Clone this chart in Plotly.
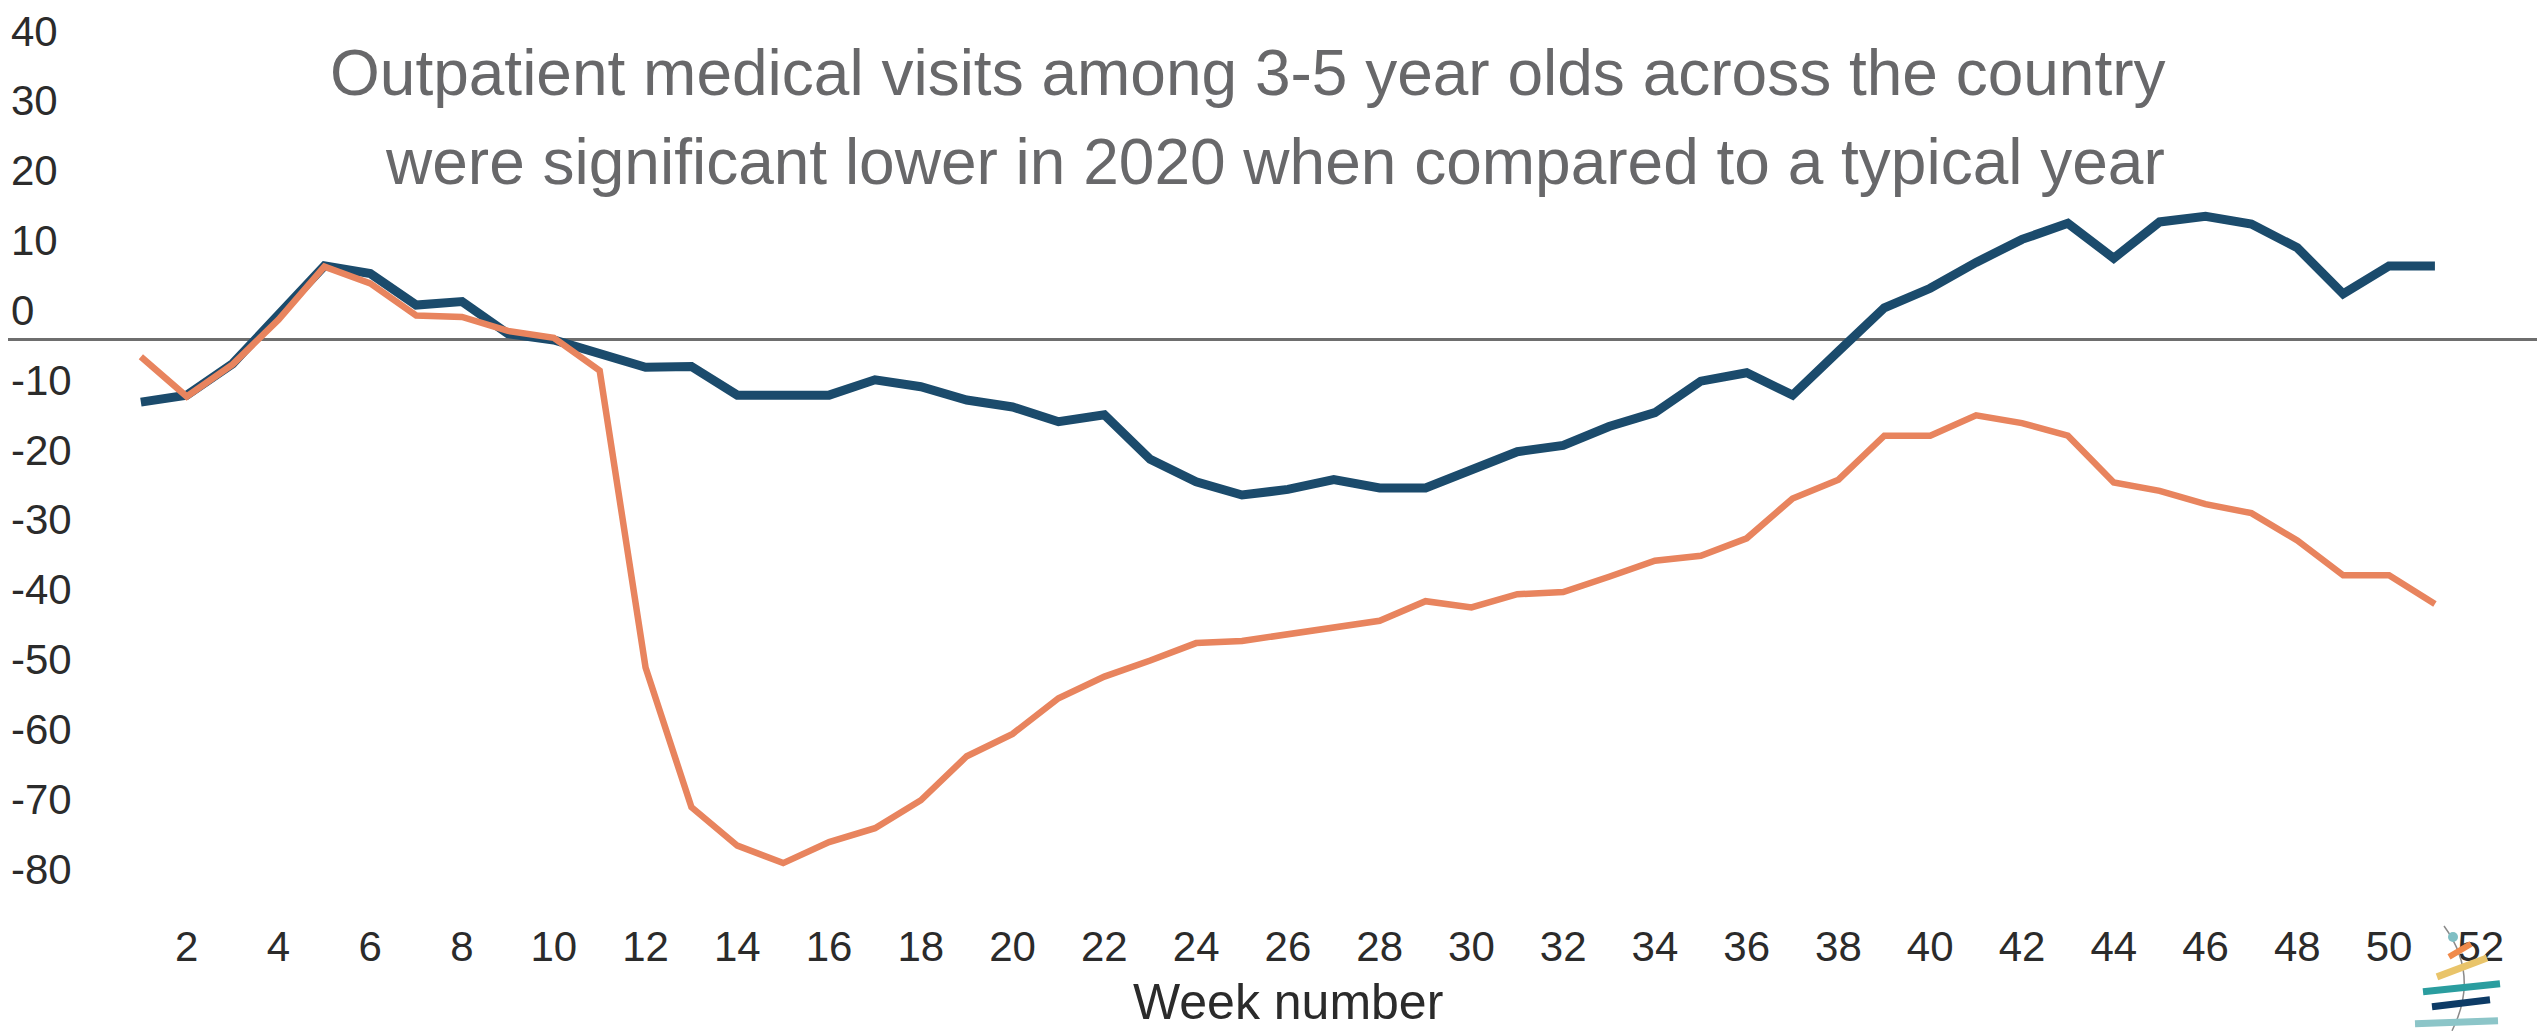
import plotly.graph_objects as go

# ---- data ----
weeks = list(range(1, 52))
typical_compare_blue = [-9.0, -8.0, -3.5, 3.3, 10.5, 9.4, 4.9, 5.4, 0.8, -0.1,
                        -2.1, -4.0, -3.9, -8.0, -8.0, -8.0, -5.8, -6.8, -8.7, -9.7,
                        -11.8, -10.8, -17.2, -20.4, -22.3, -21.5, -20.1, -21.3, -21.3, -18.8,
                        -16.1, -15.2, -12.5, -10.5, -6.0, -4.8, -8.0, -1.7, 4.5, 7.3,
                        11.0, 14.3, 16.6, 11.6, 16.8, 17.6, 16.5, 13.1, 6.5, 10.5, 10.5]
visits_2020_orange = [-2.5, -8.2, -3.6, 2.8, 10.4, 8.0, 3.4, 3.2, 1.2, 0.2,
                      -4.5, -47.0, -67.0, -72.5, -75.0, -72.0, -70.0, -66.0, -59.7, -56.5,
                      -51.4, -48.3, -46.0, -43.5, -43.2, -42.2, -41.3, -40.3, -37.5, -38.4,
                      -36.5, -36.2, -34.0, -31.7, -31.0, -28.5, -22.8, -20.1, -13.8, -13.8,
                      -10.9, -12.0, -13.8, -20.5, -21.7, -23.6, -24.9, -28.8, -33.8, -33.8, -37.9]
x_tick_vals = list(range(2, 53, 2))
x_tick_text = [str(v) for v in x_tick_vals]
y_tick_vals = list(range(40, -81, -10))
y_tick_text = [str(v) for v in y_tick_vals]
title_line1 = "Outpatient medical visits among 3-5 year olds across the country"
title_line2 = "were significant lower in 2020 when compared to a typical year"
x_title = "Week number"

# ---- layout geometry (pixels); page has an 8px body margin ----
OFF = 8
W, H = 2547 - OFF, 1031 - OFF
ML, MR, MT, MB = 0, 10, 0, 113
PW, PH = W - ML - MR, H - MT - MB


def px(x):  # page x -> paper
    return (x - OFF - ML) / PW


def py(y):  # page y -> paper
    return (MT + PH - (y - OFF)) / PH


fig = go.Figure()
fig.add_trace(go.Scatter(x=weeks, y=typical_compare_blue, mode="lines",
                         line=dict(color="#1b4b6c", width=9), showlegend=False))
fig.add_trace(go.Scatter(x=weeks, y=visits_2020_orange, mode="lines",
                         line=dict(color="#e8845e", width=6.5), showlegend=False))

tick_font = dict(family="Liberation Sans, Arial, sans-serif", size=42, color="#2b2b2b")

fig.update_layout(
    width=W, height=H,
    margin=dict(l=ML, r=MR, t=MT, b=MB),
    paper_bgcolor="white", plot_bgcolor="white",
    xaxis=dict(range=[-1.896, 53.225], tickvals=x_tick_vals, ticktext=x_tick_text,
               showgrid=False, zeroline=False, showline=False, ticks="",
               tickfont=tick_font),
    yaxis=dict(range=[-82.86, 47.14], tickvals=y_tick_vals, ticktext=y_tick_text,
               showgrid=False, zeroline=True, zerolinecolor="#6e6e6e", zerolinewidth=3,
               showline=False, ticks="", ticklabelposition="inside", ticklabelshift=-29,
               ticklabeloverflow="allow", tickfont=tick_font),
)

title_font = dict(family="Liberation Sans, Arial, sans-serif", size=64, color="#68686a")
fig.add_annotation(text=title_line1, xref="paper", yref="paper", x=px(1248), y=py(71),
                   xanchor="center", yanchor="middle", showarrow=False, font=title_font)
fig.add_annotation(text=title_line2, xref="paper", yref="paper", x=px(1275), y=py(160),
                   xanchor="center", yanchor="middle", showarrow=False, font=title_font)
fig.add_annotation(text=x_title, xref="paper", yref="paper", x=px(1288), y=py(1002),
                   xanchor="center", yanchor="middle", showarrow=False,
                   font=dict(family="Liberation Sans, Arial, sans-serif", size=50, color="#2b2b2b"))

# small logo in the bottom-right corner
logo_bars = [
    ((2449, 957), (2471, 944), "#f08a4b", 6),
    ((2437, 977), (2487, 958), "#e9c46a", 7),
    ((2423, 992), (2500, 984), "#2a9d9f", 7),
    ((2432, 1007), (2490, 1000), "#0d3b66", 7),
    ((2415, 1024), (2498, 1021), "#8cc5c8", 7),
]
fig.add_shape(type="path", xref="paper", yref="paper",
              path=f"M {px(2444)},{py(926)} Q {px(2480)},{py(975)} {px(2452)},{py(1031)}",
              line=dict(color="#8a8a8a", width=1.5))
for (x0, y0), (x1, y1), c, w in logo_bars:
    fig.add_shape(type="line", xref="paper", yref="paper",
                  x0=px(x0), y0=py(y0), x1=px(x1), y1=py(y1),
                  line=dict(color=c, width=w))
fig.add_shape(type="circle", xref="paper", yref="paper",
              x0=px(2448), y0=py(932), x1=px(2458), y1=py(942),
              fillcolor="#7fbfc4", line=dict(width=0))

fig.write_html("out.html")
